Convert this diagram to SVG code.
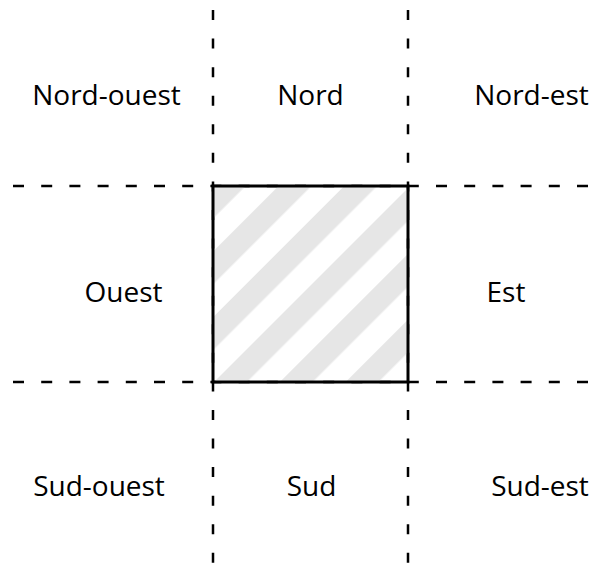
<svg xmlns="http://www.w3.org/2000/svg" width="589" height="563" viewBox="0 0 589 563">
  <defs>
    <!-- diagonal hatching for the central square -->
    <pattern id="hatch" patternUnits="userSpaceOnUse" width="46.5" height="46.5" patternTransform="rotate(45)">
      <rect x="3" y="0" width="23.2" height="46.5" fill="#e6e6e6"/>
    </pattern>
    <style>
      .grid { stroke: #000; stroke-width: 2.5; fill: none; stroke-linecap: butt; }
      .v { stroke-dasharray: 10 18.57; }
      .h { stroke-dasharray: 11 17.2; }
      .box { stroke: #000; stroke-width: 3; }
      .lbl { font-family: "Open Sans", "Noto Sans", "DejaVu Sans", sans-serif; font-size: 28px; fill: #000; text-anchor: middle; }
    </style>
  </defs>
  <rect width="589" height="563" fill="#fff"/>

  <!-- dividing lines -->
  <g id="connectors">
    <line class="grid v" x1="213" y1="10" x2="213" y2="563"/>
    <line class="grid v" x1="408" y1="10" x2="408" y2="563"/>
    <line class="grid h" x1="13" y1="186" x2="589" y2="186"/>
    <line class="grid h" x1="13" y1="382" x2="589" y2="382"/>
  </g>

  <g id="centre">
    <rect class="box" x="213" y="186" width="195" height="196" fill="url(#hatch)"/>
  </g>

  <g id="nord-ouest"><text class="lbl" x="106.5" y="105">Nord-ouest</text></g>
  <g id="nord"><text class="lbl" x="310.5" y="105">Nord</text></g>
  <g id="nord-est"><text class="lbl" x="531.5" y="105">Nord-est</text></g>
  <g id="ouest"><text class="lbl" x="123.5" y="302">Ouest</text></g>
  <g id="est"><text class="lbl" x="506" y="302">Est</text></g>
  <g id="sud-ouest"><text class="lbl" x="99" y="496">Sud-ouest</text></g>
  <g id="sud"><text class="lbl" x="311.5" y="496">Sud</text></g>
  <g id="sud-est"><text class="lbl" x="540" y="496">Sud-est</text></g>
</svg>
